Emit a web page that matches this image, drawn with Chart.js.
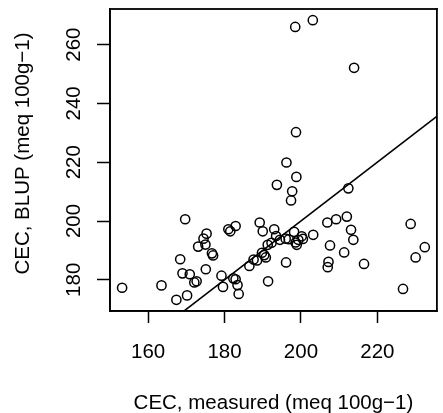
<!DOCTYPE html>
<html lang="en">
<head>
  <meta charset="UTF-8">
  <title>CEC: BLUP vs measured</title>
  <script src="https://cdn.jsdelivr.net/npm/chart.js"></script>
  <style>
    html, body { margin: 0; padding: 0; background: #fff; overflow: hidden; }
    canvas { display: block; }
  </style>
</head>
<body>
  <canvas id="cecChart" width="443" height="413"></canvas>

  <script>
    // measured CEC vs BLUP estimate, one entry per sample
    const xMeasured = [153.2, 163.5, 167.4, 170.2, 169.7, 168.4, 169.0, 170.9, 172.1, 172.7,
                       175.1, 173.1, 174.5, 175.3, 175.0, 176.7, 177.0, 181.0, 181.5, 182.9,
                       179.2, 179.6, 182.3, 182.9, 183.4, 183.7, 186.5, 187.6, 188.5, 189.2,
                       190.0, 189.8, 190.4, 190.8, 191.3, 192.3, 191.4, 193.0, 193.5, 194.5,
                       193.7, 196.2, 198.8, 197.7, 197.4, 196.1, 198.2, 196.0, 196.8, 198.6,
                       198.9, 199.3, 200.2, 200.5, 203.2, 206.9, 209.2, 212.0, 212.4, 213.1,
                       213.7, 207.6, 211.3, 207.2, 207.0, 216.5, 228.7, 232.4, 230.0, 226.7,
                       198.5, 203.1, 213.9, 198.7];
    const yBlup = [177.3, 178.1, 173.2, 174.7, 200.6, 187.0, 182.2, 181.9, 179.1, 179.5,
                   183.6, 191.3, 194.0, 195.7, 192.0, 189.0, 188.3, 197.2, 196.5, 198.3,
                   181.4, 177.6, 180.5, 180.2, 178.2, 175.2, 184.7, 186.9, 186.6, 199.5,
                   196.5, 189.2, 188.4, 187.6, 191.9, 192.6, 179.5, 197.2, 194.9, 193.6,
                   212.3, 219.9, 215.0, 210.1, 207.0, 185.9, 196.3, 194.0, 193.8, 192.7,
                   191.9, 193.6, 194.8, 193.9, 195.3, 199.5, 200.6, 201.5, 211.1, 197.0,
                   193.6, 191.7, 189.3, 186.1, 184.3, 185.4, 199.0, 191.1, 187.6, 176.9,
                   266.0, 268.3, 252.1, 230.2];
    const xTicks = [160, 180, 200, 220];
    const yTicks = [180, 200, 220, 240, 260];
    const oneToOne = [140, 250];   // y = x reference line, clipped to the plot box
    const xTitle = 'CEC, measured (meq 100g\u22121)';
    const yTitle = 'CEC, BLUP (meq 100g\u22121)';

    const FONT = '"Liberation Sans", Arial, Helvetica, sans-serif';
    const FONT_SIZE = 20.5;

    // axis limits padded 4% on each side, like base R plots
    function padRange(vals) {
      const lo = Math.min(...vals), hi = Math.max(...vals);
      const ext = (hi - lo) * 0.04;
      return [lo - ext, hi + ext];
    }
    const [xMin, xMax] = padRange(xMeasured);
    const [yMin, yMax] = padRange(yBlup);

    // box around the plot, rotated y labels and both axis titles
    const framePlugin = {
      id: 'frame',
      afterDraw(chart) {
        const { ctx, chartArea: a } = chart;
        const yScale = chart.scales.y;
        const lw = 1.8;
        ctx.save();
        ctx.fillStyle = '#000';
        // four sides as thin filled strips
        ctx.fillRect(a.left - lw / 2, a.top - lw / 2, a.right - a.left + lw, lw);
        ctx.fillRect(a.left - lw / 2, a.bottom - lw / 2, a.right - a.left + lw, lw);
        ctx.fillRect(a.left - lw / 2, a.top - lw / 2, lw, a.bottom - a.top + lw);
        ctx.fillRect(a.right - lw / 2, a.top - lw / 2, lw, a.bottom - a.top + lw);

        ctx.font = FONT_SIZE + 'px ' + FONT;
        ctx.textAlign = 'center';
        ctx.textBaseline = 'alphabetic';

        yScale.ticks.forEach(t => {
          const py = yScale.getPixelForValue(t.value);
          ctx.save();
          ctx.translate(80, py);
          ctx.rotate(-Math.PI / 2);
          ctx.fillText(String(t.value), 0, 0);
          ctx.restore();
        });

        ctx.fillText(xTitle, (a.left + a.right) / 2, 408.5);

        ctx.save();
        ctx.translate(28.5, 153.5);
        ctx.rotate(-Math.PI / 2);
        ctx.fillText(yTitle, 0, 0);
        ctx.restore();
        ctx.restore();
      }
    };

    const points = xMeasured.map((x, i) => ({ x: x, y: yBlup[i] }));
    const refLine = oneToOne.map(v => ({ x: v, y: v }));

    const ctx = document.getElementById('cecChart').getContext('2d');
    const cecChart = new Chart(ctx, {
      type: 'scatter',
      data: {
        datasets: [
          {
            label: 'samples',
            data: points,
            pointStyle: 'circle',
            pointRadius: 4.6,
            pointHoverRadius: 4.6,
            pointBorderWidth: 1.5,
            borderColor: '#000',
            backgroundColor: 'rgba(0,0,0,0)'
          },
          {
            label: '1:1',
            type: 'line',
            data: refLine,
            borderColor: '#000',
            borderWidth: 1.6,
            pointRadius: 0,
            fill: false
          }
        ]
      },
      options: {
        responsive: false,
        animation: false,
        layout: { padding: { top: 9, right: 6, left: 0, bottom: 0 } },
        plugins: {
          legend: { display: false },
          tooltip: { enabled: false }
        },
        scales: {
          x: {
            type: 'linear',
            position: 'bottom',
            min: xMin,
            max: xMax,
            afterBuildTicks: s => { s.ticks = xTicks.map(v => ({ value: v })); },
            afterFit: s => { s.height = 102; },
            grid: {
              drawOnChartArea: false,
              drawTicks: true,
              tickLength: 12,
              tickColor: '#000',
              tickWidth: 1.5
            },
            border: { display: true, color: '#000', width: 1.6 },
            ticks: {
              color: '#000',
              padding: 17,
              maxRotation: 0,
              autoSkip: false,
              font: { family: FONT, size: FONT_SIZE }
            }
          },
          y: {
            type: 'linear',
            min: yMin,
            max: yMax,
            afterBuildTicks: s => { s.ticks = yTicks.map(v => ({ value: v })); },
            afterFit: s => { s.width = 110; },
            grid: {
              drawOnChartArea: false,
              drawTicks: true,
              tickLength: 13,
              tickColor: '#000',
              tickWidth: 1.5
            },
            border: { display: true, color: '#000', width: 1.6 },
            ticks: { display: false }
          }
        }
      },
      plugins: [framePlugin]
    });
  </script>
</body>
</html>
